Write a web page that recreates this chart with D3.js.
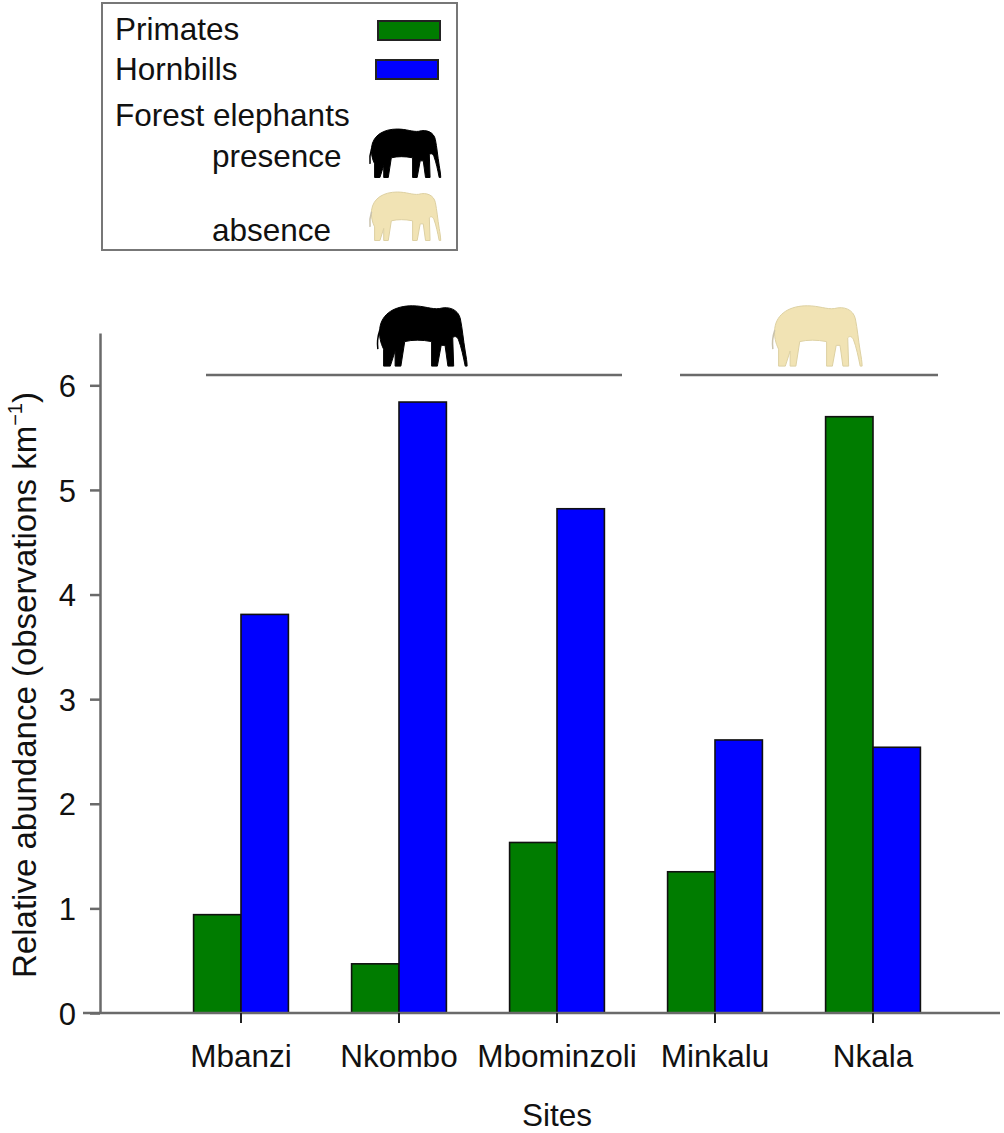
<!DOCTYPE html>
<html>
<head>
<meta charset="utf-8">
<script src="https://cdn.jsdelivr.net/npm/d3@7.9.0/dist/d3.min.js"></script>
<style>
  body { margin: 0; background: #fff; }
  svg { display: block; font-family: "Liberation Sans", Arial, sans-serif; }
</style>
</head>
<body>
<svg id="chart" width="1004" height="1133"></svg>
<script>
// data
const sites = ['Mbanzi', 'Nkombo', 'Mbominzoli', 'Minkalu', 'Nkala'];
const series = ['Primates', 'Hornbills'];
const primates = [0.94, 0.47, 1.63, 1.35, 5.70];
const hornbills = [3.81, 5.84, 4.82, 2.61, 2.54];
const elephantGroups = [
  { status: 'presence', from: 'Mbanzi', to: 'Mbominzoli' },
  { status: 'absence', from: 'Minkalu', to: 'Nkala' }
];
const yTicks = [0, 1, 2, 3, 4, 5, 6];

const colors = { Primates: '#007c00', Hornbills: '#0000ff' };
const elephantFill = { presence: '#000000', absence: '#f1e3b4' };
const axisGrey = '#6a6a6a';

// elephant silhouette in a 100 x 70 box, facing right
const elephantPath =
  'M6,28 C8,12 22,4 40,4 C52,4 60,8 68,7 C78,4 88,8 90,18 ' +
  'C92,28 93,40 95,52 C96,58 97,64 97,68 L95,68 C93,58 91,48 88,40 ' +
  'C86,36 84,36 82,38 L83,68 L77,68 L74,46 L70,46 L66,68 L60,68 L60,42 ' +
  'C50,40 40,40 32,42 L28,68 L22,68 L22,52 L17,68 L10,68 L10,50 ' +
  'C7,44 5,36 6,28 Z';

const svg = d3.select('#chart');

const x = d3.scaleBand().domain(sites).range([162, 952]).paddingInner(0.4).paddingOuter(0.2);
const xSub = d3.scaleBand().domain(series).range([0, x.bandwidth()]);
const y = d3.scaleLinear().domain([0, 6.5]).range([1013, 333]);

const rows = sites.map((s, i) => ({ site: s, Primates: primates[i], Hornbills: hornbills[i] }));

function drawElephant(g, status, cx, bottom, w, h) {
  let sx = w / 100, sy = h / 70;
  let e = g.append('g')
    .attr('transform', `translate(${cx - w / 2},${bottom - h}) scale(${sx},${sy})`);
  e.append('path')
    .attr('d', elephantPath)
    .attr('fill', elephantFill[status])
    .attr('stroke', status === 'absence' ? '#ddd0a2' : '#000')
    .attr('stroke-width', 1 / sx);
  e.append('path')
    .attr('d', 'M6,30 C4,36 3,42 4,50')
    .attr('fill', 'none')
    .attr('stroke', status === 'absence' ? '#c9c2ad' : '#000')
    .attr('stroke-width', 1.5 / sx);
}

// bars
svg.append('g')
  .selectAll('g')
  .data(rows)
  .join('g')
  .attr('transform', d => `translate(${x(d.site)},0)`)
  .selectAll('rect')
  .data(d => series.map(k => ({ key: k, value: d[k] })))
  .join('rect')
  .attr('x', d => xSub(d.key))
  .attr('y', d => y(d.value))
  .attr('width', xSub.bandwidth())
  .attr('height', d => y(0) - y(d.value))
  .attr('fill', d => colors[d.key])
  .attr('stroke', '#111')
  .attr('stroke-width', 1.6);

// y axis
let yAxis = svg.append('g')
  .attr('transform', 'translate(100,0)')
  .call(d3.axisLeft(y).tickValues(yTicks).tickFormat(d3.format('d')).tickSize(10).tickSizeOuter(0).tickPadding(14));
yAxis.select('.domain').attr('stroke', axisGrey).attr('stroke-width', 2.5);
yAxis.selectAll('.tick line').attr('stroke', axisGrey).attr('stroke-width', 2.5);
yAxis.selectAll('.tick text').attr('font-size', 31).attr('fill', '#111').attr('dy', '0.36em');

// x axis line across the full width
svg.append('line')
  .attr('x1', 83).attr('x2', 1000)
  .attr('y1', y(0)).attr('y2', y(0))
  .attr('stroke', axisGrey).attr('stroke-width', 2.5);

let xAxis = svg.append('g')
  .attr('transform', `translate(0,${y(0)})`)
  .call(d3.axisBottom(x).tickSize(10).tickSizeOuter(0).tickPadding(22));
xAxis.select('.domain').remove();
xAxis.selectAll('.tick line').attr('stroke', '#222').attr('stroke-width', 2);
xAxis.selectAll('.tick text').attr('font-size', 31.5).attr('fill', '#111');

// axis titles
svg.append('text')
  .attr('x', x(sites[2]) + x.bandwidth() / 2)
  .attr('y', 1126)
  .attr('text-anchor', 'middle')
  .attr('font-size', 31.5)
  .attr('fill', '#111')
  .text('Sites');

let yTitle = svg.append('text')
  .attr('transform', 'translate(36,685) rotate(-90)')
  .attr('text-anchor', 'middle')
  .attr('font-size', 33)
  .attr('fill', '#111');
yTitle.append('tspan').text('Relative abundance (observations km');
yTitle.append('tspan').attr('font-size', 20).attr('dy', -14).text('\u22121');
yTitle.append('tspan').attr('dy', 14).text(')');

// elephant groups over the bars
let groupG = svg.append('g');
elephantGroups.forEach(gr => {
  let x1 = x(gr.from) + x.bandwidth() / 2 - 35;
  let x2 = x(gr.to) + x.bandwidth() / 2 + 65;
  groupG.append('line')
    .attr('x1', x1).attr('x2', x2)
    .attr('y1', 375).attr('y2', 375)
    .attr('stroke', axisGrey).attr('stroke-width', 2.5);
  drawElephant(groupG, gr.status, (x1 + x2) / 2 + 8, 368, 96, 66);
});

// legend
let legend = svg.append('g');
legend.append('rect')
  .attr('x', 102).attr('y', 3).attr('width', 355).attr('height', 247)
  .attr('fill', '#fff').attr('stroke', '#777').attr('stroke-width', 2);

series.forEach((k, i) => {
  legend.append('text')
    .attr('x', 115).attr('y', 40 + i * 40)
    .attr('font-size', 31.5).attr('fill', '#111')
    .text(k);
  legend.append('rect')
    .attr('x', 378 - i * 2).attr('y', 21 + i * 39)
    .attr('width', 62).attr('height', 19)
    .attr('fill', colors[k]).attr('stroke', '#222').attr('stroke-width', 2);
});

legend.append('text')
  .attr('x', 115).attr('y', 126)
  .attr('font-size', 31.5).attr('fill', '#111')
  .text('Forest elephants');

['presence', 'absence'].forEach((s, i) => {
  legend.append('text')
    .attr('x', 212).attr('y', i === 0 ? 167 : 241)
    .attr('font-size', 31.5).attr('fill', '#111')
    .text(s);
  drawElephant(legend, s, 405, i === 0 ? 179 : 242, 76, 53);
});
</script>
</body>
</html>
